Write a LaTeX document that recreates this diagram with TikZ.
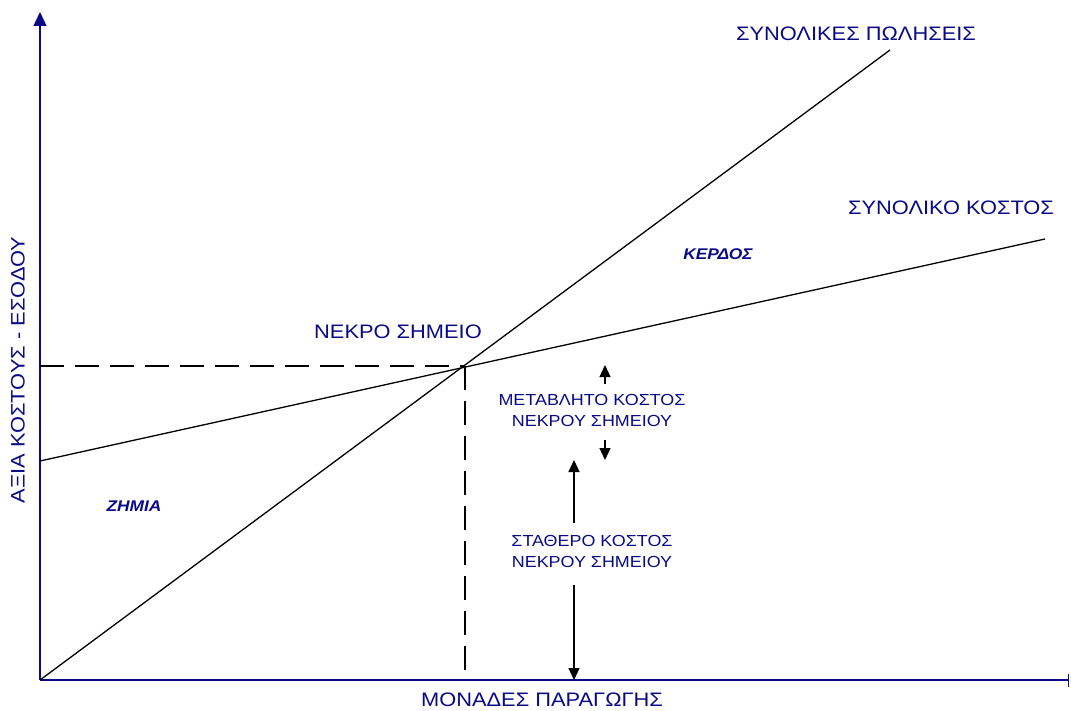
\documentclass[tikz,border=0pt]{standalone}
\usepackage{fontspec}
\setmainfont{Liberation Sans}[FakeStretch=1.12]
\usetikzlibrary{arrows.meta}
\definecolor{axisblue}{RGB}{10,10,135}
\tikzset{
  axis/.style={draw=axisblue, line width=1.4pt},
  curve/.style={draw=black, line width=1.3pt},
  guide/.style={draw=black, line width=1.3pt, dash pattern=on 24pt off 11pt},
  dim/.style={draw=black, line width=1.3pt, -{Triangle[length=12pt,width=11pt]}},
  big/.style={text=axisblue, font=\fontsize{19.5}{22}\selectfont, inner sep=0pt},
  small/.style={text=axisblue, font=\fontsize{16}{22}\selectfont, inner sep=0pt, align=center},
  zone/.style={text=axisblue, font=\fontsize{15.5}{18}\selectfont\bfseries\itshape, inner sep=0pt},
}
\begin{document}
\begin{tikzpicture}[x=1pt,y=-1pt]
  \useasboundingbox (0,0) rectangle (1071,711);
  % axes
  \coordinate (O) at (40,680);
  \coordinate (ytop) at (40,12);
  \coordinate (xend) at (1069,680);
  \draw[axis, -{Triangle[length=14pt,width=13pt]}] (O) -- (ytop);
  \draw[axis, -{Bar[width=13pt]}] (O) -- (xend);
  % sales and cost lines
  \coordinate (S1) at (890,50);
  \coordinate (C0) at (40,461);
  \coordinate (C1) at (1045,239);
  \draw[curve] (O) -- (S1);
  \draw[curve] (C0) -- (C1);
  % break-even point and guides
  \coordinate (B) at (465,366);
  \coordinate (By) at (O |- B);
  \coordinate (Bx) at (B |- O);
  \draw[guide] (By) -- (B);
  \draw[guide] (B) -- (Bx);
  % dimension arrows
  \coordinate (v1a) at (605,384);
  \coordinate (v1b) at (605,365);
  \coordinate (v2a) at (605,440);
  \coordinate (v2b) at (605,460);
  \coordinate (f1a) at (574,523);
  \coordinate (f1b) at (574,460);
  \coordinate (f2a) at (574,585);
  \coordinate (f2b) at (574,680);
  \draw[dim] (v1a) -- (v1b);
  \draw[dim] (v2a) -- (v2b);
  \draw[dim] (f1a) -- (f1b);
  \draw[dim] (f2a) -- (f2b);
  % labels
  \node[big] (sales) at (856,34) {ΣΥΝΟΛΙΚΕΣ ΠΩΛΗΣΕΙΣ};
  \node[big] (cost) at (951,208) {ΣΥΝΟΛΙΚΟ ΚΟΣΤΟΣ};
  \node[big] (bep) at (398,332) {ΝΕΚΡΟ ΣΗΜΕΙΟ};
  \node[zone] (profit) at (718,254) {ΚΕΡΔΟΣ};
  \node[zone] (loss) at (134,506) {ΖΗΜΙΑ};
  \node[small] (var1) at (592,400) {ΜΕΤΑΒΛΗΤΟ ΚΟΣΤΟΣ};
  \node[small] (var2) at (592,421) {ΝΕΚΡΟΥ ΣΗΜΕΙΟΥ};
  \node[small] (fix1) at (592,541) {ΣΤΑΘΕΡΟ ΚΟΣΤΟΣ};
  \node[small] (fix2) at (592,562) {ΝΕΚΡΟΥ ΣΗΜΕΙΟΥ};
  \node[big] (xlabel) at (542,700) {ΜΟΝΑΔΕΣ ΠΑΡΑΓΩΓΗΣ};
  \node[big, rotate=90] (ylabel) at (18,370) {ΑΞΙΑ ΚΟΣΤΟΥΣ - ΕΣΟΔΟΥ};
\end{tikzpicture}
\end{document}
